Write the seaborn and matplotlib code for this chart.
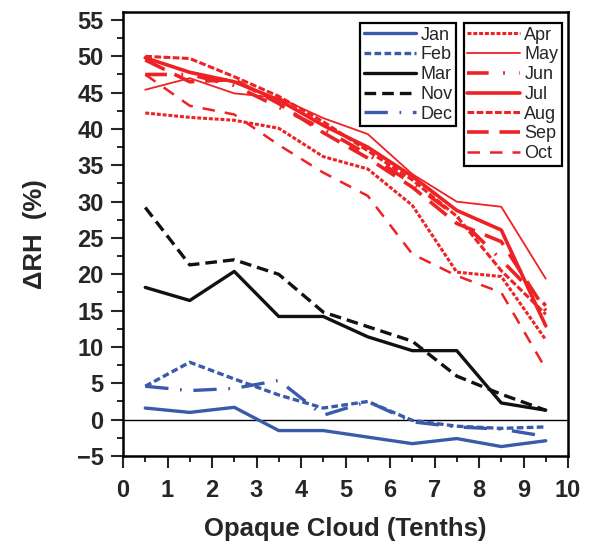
import matplotlib
matplotlib.use("Agg")
import matplotlib.pyplot as plt
import seaborn as sns
import numpy as np

cloud = [0.5, 1.5, 2.5, 3.5, 4.5, 5.5, 6.5, 7.5, 8.5, 9.5]

jan = [1.6, 1.0, 1.7, -1.5, -1.5, -2.4, -3.3, -2.6, -3.7, -2.9]
feb = [4.6, 7.9, 5.6, 3.4, 1.6, 2.5, -0.1, -0.9, -1.2, -1.0]
mar = [18.2, 16.4, 20.4, 14.2, 14.2, 11.4, 9.5, 9.5, 2.3, 1.3]
nov = [29.2, 21.3, 22.0, 20.0, 14.8, 12.8, 10.8, 6.0, 3.5, 1.3]
dec = [4.6, 4.0, 4.3, 5.4, 0.6, 2.5, -0.3, -1.0, -1.3, -2.3]

apr = [42.2, 41.6, 41.2, 40.1, 36.2, 34.5, 29.5, 20.3, 19.7, 11.0]
may = [45.4, 47.0, 44.9, 44.3, 41.5, 39.3, 33.8, 30.0, 29.3, 19.4]
jun = [47.5, 47.5, 46.0, 43.0, 40.0, 36.5, 32.5, 28.0, 22.0, 15.7]
jul = [49.8, 47.8, 46.5, 44.0, 40.5, 37.5, 33.5, 28.8, 26.1, 12.9]
aug = [50.0, 49.7, 47.2, 44.5, 41.0, 37.0, 33.0, 28.0, 20.5, 14.5]
sep = [49.5, 46.5, 46.8, 43.5, 39.5, 36.0, 32.0, 27.0, 24.5, 15.0]
octo = [47.5, 43.2, 42.0, 37.8, 34.0, 30.8, 22.8, 19.8, 17.5, 7.0]

BLUE = "#3a5aaa"
RED = "#ee2224"
BLACK = "#111111"

sns.set_style("ticks")
plt.rcParams["font.family"] = ["Liberation Sans", "DejaVu Sans"]

fig = plt.figure(figsize=(5.94, 5.45), dpi=100)
ax = fig.add_axes([123/594, 1-456/545, 445/594, 444/545])

left_series = [
    ("Jan", jan, BLUE, 2.4, "-"),
    ("Feb", feb, BLUE, 2.4, (0, (2.0, 1.0))),
    ("Mar", mar, BLACK, 2.4, "-"),
    ("Nov", nov, BLACK, 2.4, (0, (3.5, 1.8))),
    ("Dec", dec, BLUE, 2.4, (0, (7.0, 3.5, 0.5, 3.5))),
]
right_series = [
    ("Apr", apr, RED, 2.2, (0, (1.3, 0.6))),
    ("May", may, RED, 1.3, "-"),
    ("Jun", jun, RED, 2.6, (0, (6.0, 4.0, 0.5, 4.0))),
    ("Jul", jul, RED, 2.6, "-"),
    ("Aug", aug, RED, 2.2, (0, (2.2, 0.8))),
    ("Sep", sep, RED, 2.6, (0, (6.0, 3.0))),
    ("Oct", octo, RED, 1.8, (0, (5.0, 4.0))),
]

ax.axhline(0, color="black", linewidth=1.0, zorder=1)

handles_l, handles_r = [], []
for group, store in ((left_series, handles_l), (right_series, handles_r)):
    for name, vals, col, lw, ls in group:
        sns.lineplot(x=cloud, y=vals, ax=ax, color=col, linewidth=lw,
                     linestyle=ls, label=name, legend=False)
        store.append(ax.get_lines()[-1])

ax.set_xlim(0, 10)
ax.set_ylim(-5, 56.1)
ax.set_xticks(np.arange(0, 11, 1))
ax.set_xticks(np.arange(0.5, 10, 1), minor=True)
ax.set_yticks(np.arange(-5, 56, 5))
ax.set_yticks(np.arange(-2.5, 56, 5), minor=True)
ax.tick_params(axis="both", which="major", direction="out", length=8.6, width=1.5,
               labelsize=17)
ax.tick_params(axis="x", which="major", pad=8)
ax.tick_params(axis="y", which="major", pad=5.5)
ax.tick_params(axis="both", which="minor", direction="out", length=4.5, width=1.4)
for lab in ax.get_xticklabels() + ax.get_yticklabels():
    lab.set_fontweight("bold")
for sp in ax.spines.values():
    sp.set_visible(True)
    sp.set_linewidth(1.8)
    sp.set_color("black")

ax.set_xlabel("Opaque Cloud (Tenths)", fontsize=18.5, fontweight="bold", labelpad=10.5)
ax.set_ylabel("ΔRH  (%)", fontsize=18.5, fontweight="bold", labelpad=21)

leg_kw = dict(loc="upper left", frameon=True, fancybox=False, framealpha=1,
              edgecolor="black", fontsize=13, handlelength=2.9, handletextpad=0.25,
              labelspacing=0.15, borderpad=0.2, borderaxespad=0)
leg1 = ax.legend(handles=handles_l, labels=[s[0] for s in left_series],
                 bbox_to_anchor=(0.533, 0.975), **leg_kw)
leg1.get_frame().set_linewidth(1.6)
ax.add_artist(leg1)
leg2 = ax.legend(handles=handles_r, labels=[s[0] for s in right_series],
                 bbox_to_anchor=(0.766, 0.975), **leg_kw)
leg2.get_frame().set_linewidth(1.6)

fig.savefig("out.png", dpi=100)
